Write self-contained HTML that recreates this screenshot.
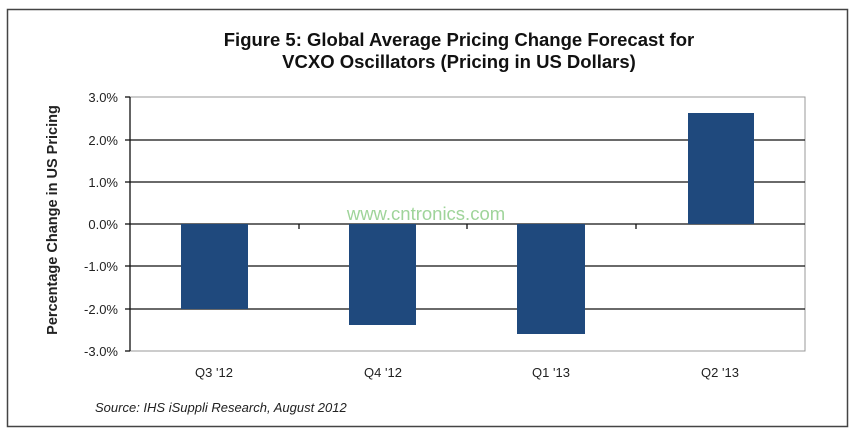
<!DOCTYPE html>
<html><head><style>
body{margin:0;background:#fff;width:857px;height:433px;overflow:hidden}
</style></head><body>
<svg width="857" height="433" xmlns="http://www.w3.org/2000/svg" font-family="Liberation Sans, Arial, sans-serif">
<rect x="7.5" y="9.5" width="840" height="417" fill="#fff" stroke="#444" stroke-width="1.5"/>
<text x="459" y="46" text-anchor="middle" font-size="18.5" font-weight="bold" fill="#111">Figure 5: Global Average Pricing Change Forecast for</text>
<text x="459" y="68" text-anchor="middle" font-size="18.5" font-weight="bold" fill="#111">VCXO Oscillators (Pricing in US Dollars)</text>
<rect x="130" y="97" width="675" height="254" fill="none" stroke="#999" stroke-width="1"/>
<g stroke="#111" stroke-width="1.3">
<line x1="130" y1="140" x2="805" y2="140"/>
<line x1="130" y1="182" x2="805" y2="182"/>
<line x1="130" y1="266" x2="805" y2="266"/>
<line x1="130" y1="309" x2="805" y2="309"/>
<line x1="130" y1="224" x2="805" y2="224"/>
<line x1="130" y1="97" x2="130" y2="351"/>
<line x1="125" y1="97" x2="130" y2="97"/><line x1="125" y1="140" x2="130" y2="140"/><line x1="125" y1="182" x2="130" y2="182"/><line x1="125" y1="224" x2="130" y2="224"/><line x1="125" y1="266" x2="130" y2="266"/><line x1="125" y1="309" x2="130" y2="309"/><line x1="125" y1="351" x2="130" y2="351"/>
<line x1="299" y1="224" x2="299" y2="229"/><line x1="467" y1="224" x2="467" y2="229"/><line x1="636" y1="224" x2="636" y2="229"/>
</g>
<g fill="#1f497d">
<rect x="181" y="224" width="67" height="85"/>
<rect x="349" y="224" width="67" height="101"/>
<rect x="517" y="224" width="68" height="110"/>
<rect x="688" y="113" width="66" height="111"/>
</g>
<g font-size="13" fill="#222" text-anchor="end">
<text x="118" y="102">3.0%</text><text x="118" y="145">2.0%</text><text x="118" y="187">1.0%</text><text x="118" y="229">0.0%</text><text x="118" y="271">-1.0%</text><text x="118" y="314">-2.0%</text><text x="118" y="356">-3.0%</text>
</g>
<g font-size="13" fill="#222" text-anchor="middle">
<text x="214" y="377">Q3 '12</text><text x="383" y="377">Q4 '12</text><text x="551" y="377">Q1 '13</text><text x="720" y="377">Q2 '13</text>
</g>
<text transform="translate(57,220) rotate(-90)" text-anchor="middle" font-size="14.5" font-weight="bold" fill="#222">Percentage Change in US Pricing</text>
<text x="426" y="220" text-anchor="middle" font-size="18.5" fill="#9fd49a">www.cntronics.com</text>
<text x="95" y="412" font-size="13" font-style="italic" fill="#222">Source: IHS iSuppli Research, August 2012</text>
</svg>
</body></html>
